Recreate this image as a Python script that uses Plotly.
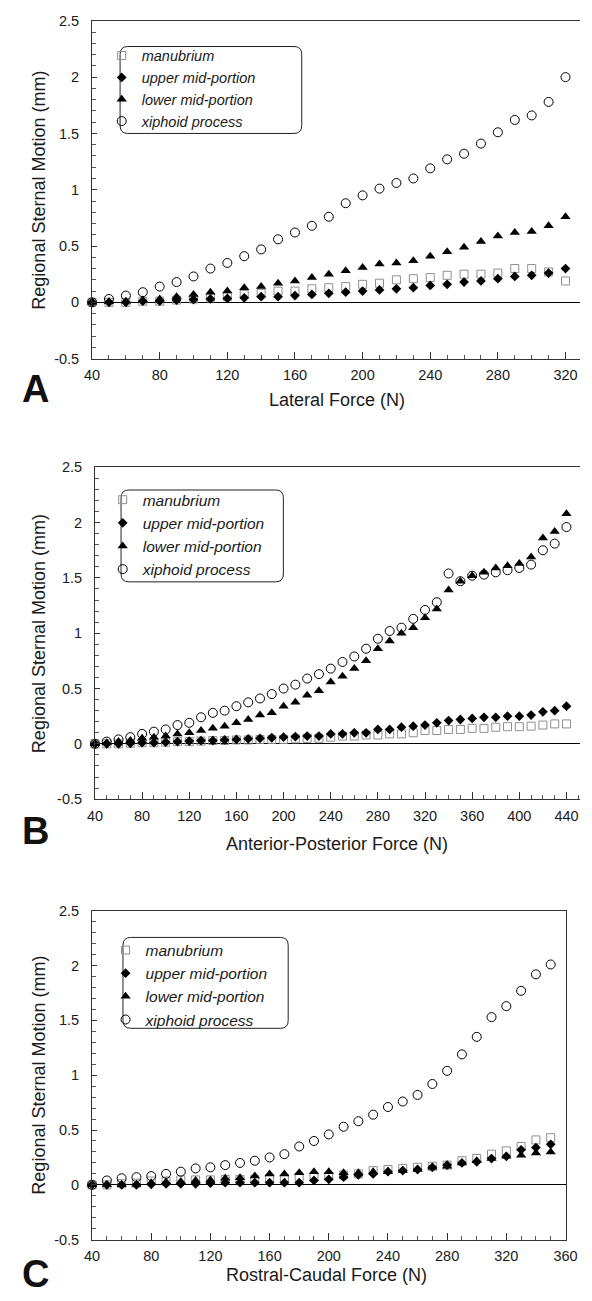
import plotly.graph_objects as go

# ---------------- DATA ----------------
force_A = list(range(40, 321, 10))
force_B = list(range(40, 441, 10))
force_C = list(range(40, 351, 10))

A_manubrium = [0, 0, 0, 0.01, 0.01, 0.02, 0.03, 0.04, 0.05, 0.07, 0.08, 0.10, 0.10, 0.12, 0.13,
               0.14, 0.16, 0.17, 0.20, 0.21, 0.22, 0.24, 0.25, 0.25, 0.26, 0.30, 0.30, 0.27, 0.19]
A_upper = [0, 0, 0, 0.01, 0.01, 0.02, 0.025, 0.03, 0.035, 0.04, 0.05, 0.05, 0.06, 0.07, 0.08,
           0.09, 0.10, 0.11, 0.12, 0.13, 0.15, 0.16, 0.18, 0.19, 0.21, 0.23, 0.24, 0.26, 0.30]
A_lower = [0, 0.005, 0.01, 0.02, 0.03, 0.05, 0.07, 0.09, 0.10, 0.13, 0.14, 0.17, 0.19, 0.22, 0.25,
           0.28, 0.31, 0.34, 0.35, 0.37, 0.41, 0.45, 0.49, 0.54, 0.59, 0.62, 0.63, 0.68, 0.76]
A_xiphoid = [0, 0.03, 0.06, 0.09, 0.14, 0.18, 0.23, 0.30, 0.35, 0.41, 0.47, 0.56, 0.62, 0.68, 0.76,
             0.88, 0.95, 1.01, 1.06, 1.10, 1.19, 1.27, 1.32, 1.41, 1.51, 1.62, 1.66, 1.78, 2.00]

B_manubrium = [0, 0, 0, 0.005, 0.01, 0.01, 0.015, 0.02, 0.02, 0.025, 0.03, 0.03, 0.035, 0.035,
               0.04, 0.04, 0.04, 0.045, 0.05, 0.05, 0.06, 0.07, 0.07, 0.08, 0.08, 0.09, 0.09,
               0.10, 0.12, 0.12, 0.13, 0.13, 0.14, 0.14, 0.15, 0.155, 0.155, 0.16, 0.17, 0.18, 0.18]
B_upper = [0, 0, 0, 0.005, 0.01, 0.01, 0.015, 0.02, 0.025, 0.03, 0.03, 0.035, 0.04, 0.045,
           0.05, 0.055, 0.06, 0.065, 0.07, 0.07, 0.09, 0.09, 0.10, 0.10, 0.13, 0.13, 0.15,
           0.16, 0.17, 0.19, 0.21, 0.22, 0.23, 0.24, 0.24, 0.25, 0.25, 0.26, 0.29, 0.30, 0.34]
B_lower = [0, 0.01, 0.02, 0.03, 0.05, 0.06, 0.07, 0.09, 0.10, 0.12, 0.14, 0.16, 0.19, 0.22,
           0.26, 0.28, 0.34, 0.375, 0.44, 0.48, 0.56, 0.61, 0.68, 0.75, 0.86, 0.93, 1.00,
           1.05, 1.14, 1.22, 1.39, 1.47, 1.52, 1.55, 1.59, 1.61, 1.63, 1.69, 1.86, 1.92, 2.08]
B_xiphoid = [0, 0.02, 0.04, 0.06, 0.09, 0.11, 0.13, 0.17, 0.19, 0.24, 0.28, 0.30, 0.34, 0.375,
             0.41, 0.45, 0.50, 0.535, 0.59, 0.63, 0.68, 0.74, 0.79, 0.86, 0.95, 1.02, 1.05,
             1.13, 1.21, 1.28, 1.54, 1.47, 1.52, 1.53, 1.55, 1.57, 1.59, 1.62, 1.75, 1.81, 1.96]

C_manubrium = [0, 0, 0.01, 0.015, 0.035, 0.035, 0.045, 0.045, 0.045, 0.05, 0.05, 0.05, 0.06, 0.06,
               0.07, 0.07, 0.08, 0.09, 0.10, 0.13, 0.14, 0.15, 0.16, 0.17, 0.18, 0.22, 0.24, 0.28,
               0.31, 0.35, 0.41, 0.43]
C_upper = [0, 0, 0, 0, 0.005, 0.01, 0.01, 0.01, 0.015, 0.02, 0.02, 0.02, 0.02, 0.02, 0.02, 0.04,
           0.05, 0.07, 0.09, 0.10, 0.12, 0.13, 0.14, 0.16, 0.18, 0.20, 0.21, 0.24, 0.26, 0.32,
           0.34, 0.37]
C_lower = [0, 0, 0, 0.005, 0.02, 0.025, 0.03, 0.04, 0.045, 0.06, 0.065, 0.08, 0.10, 0.10, 0.11,
           0.12, 0.12, 0.11, 0.11, 0.12, 0.12, 0.13, 0.14, 0.16, 0.17, 0.20, 0.22, 0.24, 0.26,
           0.27, 0.29, 0.30]
C_xiphoid = [0, 0.04, 0.06, 0.07, 0.08, 0.10, 0.12, 0.15, 0.16, 0.18, 0.20, 0.22, 0.25, 0.28,
             0.35, 0.40, 0.46, 0.53, 0.58, 0.64, 0.71, 0.76, 0.82, 0.92, 1.04, 1.19, 1.35, 1.53,
             1.63, 1.77, 1.92, 2.01]

series_names = ["manubrium", "upper mid-portion", "lower mid-portion", "xiphoid process"]
x_titles = ["Lateral Force (N)", "Anterior-Posterior Force (N)", "Rostral-Caudal Force (N)"]
panel_letters = ["A", "B", "C"]
y_title = "Regional Sternal Motion (mm)"

# ---------------- LAYOUT CONSTANTS ----------------
W, H = 592, 1301
FONT = "Liberation Sans, Arial, Helvetica, sans-serif"

def fx(px):
    return px / W

def fy(py):
    return 1 - py / H

styles = [
    dict(symbol="square-open", size=8, color="#8f8f8f", line=dict(width=1, color="#8f8f8f")),
    dict(symbol="diamond", size=7.5, color="black", line=dict(width=0)),
    dict(symbol="triangle-up", size=9, color="black", line=dict(width=0)),
    dict(symbol="circle-open", size=9, color="black", line=dict(width=1, color="black")),
]

panels = [
    dict(x=force_A, ys=[A_manubrium, A_upper, A_lower, A_xiphoid],
         xdom=(87, 592), xr=(40, 40 + (592 - 87) / 1.75), ydom=(13, 355), rmirror=False,
         legbox=(116, 39, 304, 127), legxy=(97, 32), legfont=14.5,
         ytitle_y=184, xtitle=(340, 397), letter=(28, 386)),
    dict(x=force_B, ys=[B_manubrium, B_upper, B_lower, B_xiphoid],
         xdom=(90, 592), xr=(40, 40 + (592 - 90) / 1.22), ydom=(465, 801), rmirror=False,
         legbox=(117, 488, 285, 581), legxy=(98, 481), legfont=15.5,
         ytitle_y=633, xtitle=(340, 846), letter=(28, 833)),
    dict(x=force_C, ys=[C_manubrium, C_upper, C_lower, C_xiphoid],
         xdom=(87, 577), xr=(40, 360), ydom=(914, 1247), rmirror=True,
         legbox=(119, 941, 290, 1033), legxy=(101, 937), legfont=15.5,
         ytitle_y=1080, xtitle=(330, 1283), letter=(28, 1282)),
]

fig = go.Figure()
layout = dict(
    width=W, height=H, margin=dict(l=0, r=0, t=0, b=0),
    paper_bgcolor="white", plot_bgcolor="white",
    font=dict(family=FONT, color="#1a1a1a"),
    shapes=[], annotations=[],
)

def rounded_path(x0, y0, x1, y1, r=8):
    rx, ry = r / W, r / H
    X0, X1 = fx(x0), fx(x1)
    Ytop, Ybot = fy(y0), fy(y1)
    return (f"M {X0+rx},{Ytop} L {X1-rx},{Ytop} Q {X1},{Ytop} {X1},{Ytop-ry} "
            f"L {X1},{Ybot+ry} Q {X1},{Ybot} {X1-rx},{Ybot} "
            f"L {X0+rx},{Ybot} Q {X0},{Ybot} {X0},{Ybot+ry} "
            f"L {X0},{Ytop-ry} Q {X0},{Ytop} {X0+rx},{Ytop} Z")

for i, p in enumerate(panels):
    n = "" if i == 0 else str(i + 1)
    xa, ya = "x" + n, "y" + n
    leg = "legend" + n
    for name, yv, st in zip(series_names, p["ys"], styles):
        fig.add_trace(go.Scatter(
            x=p["x"], y=yv, mode="markers", name=f"<i>{name}</i>",
            marker=st, xaxis=xa, yaxis=ya, legend=leg, showlegend=True,
            cliponaxis=False,
        ))
    layout["xaxis" + n] = dict(
        domain=[fx(p["xdom"][0]), fx(p["xdom"][1])], range=list(p["xr"]),
        anchor=ya, showgrid=False, zeroline=False,
        showline=True, linecolor="#333", linewidth=1, mirror=True,
        ticks="inside", ticklen=7, tickwidth=1, tickcolor="#333",
        tick0=40, dtick=40,
        minor=dict(ticks="inside", ticklen=4, dtick=10, tick0=40, tickcolor="#555", showgrid=False),
        tickfont=dict(size=14.5, family=FONT, color="#1a1a1a"),
        ticklabelstandoff=3, fixedrange=True,
    )
    layout["yaxis" + n] = dict(
        domain=[fy(p["ydom"][1]), fy(p["ydom"][0])], range=[-0.5, 2.5],
        anchor=xa, showgrid=False,
        zeroline=True, zerolinecolor="black", zerolinewidth=1,
        showline=True, linecolor="#333", linewidth=1, mirror=p["rmirror"],
        ticks="inside", ticklen=5, tickwidth=1, tickcolor="#333",
        tickvals=[-0.5, 0, 0.5, 1, 1.5, 2, 2.5],
        ticktext=["-0.5", "0", "0.5", "1", "1.5", "2", "2.5"],
        minor=dict(ticks="inside", ticklen=4, dtick=0.1, tick0=0, tickcolor="#555", showgrid=False),
        tickfont=dict(size=14.5, family=FONT, color="#1a1a1a"),
        ticklabelstandoff=9, fixedrange=True,
    )
    layout[leg] = dict(
        x=fx(p["legxy"][0]), y=fy(p["legxy"][1]), xanchor="left", yanchor="top",
        bgcolor="rgba(0,0,0,0)", borderwidth=0,
        font=dict(size=p["legfont"], family=FONT, color="#1a1a1a"),
        tracegroupgap=0,
    )
    bx0, by0, bx1, by1 = p["legbox"]
    layout["shapes"].append(dict(
        type="path", xref="paper", yref="paper", path=rounded_path(bx0, by0, bx1, by1),
        line=dict(color="#222", width=1), fillcolor="rgba(0,0,0,0)", layer="below",
    ))
    layout["annotations"].append(dict(
        text=y_title, xref="paper", yref="paper", x=fx(32), y=fy(p["ytitle_y"]),
        xanchor="center", yanchor="middle", textangle=-90, showarrow=False,
        font=dict(size=18, family=FONT, color="#1a1a1a"),
    ))
    layout["annotations"].append(dict(
        text=x_titles[i], xref="paper", yref="paper", x=fx(p["xtitle"][0]), y=fy(p["xtitle"][1]),
        xanchor="center", yanchor="middle", showarrow=False,
        font=dict(size=18, family=FONT, color="#1a1a1a"),
    ))
    layout["annotations"].append(dict(
        text=f"<b>{panel_letters[i]}</b>", xref="paper", yref="paper",
        x=fx(p["letter"][0]), y=fy(p["letter"][1]),
        xanchor="center", yanchor="middle", showarrow=False,
        font=dict(size=38, family=FONT, color="#111"),
    ))

fig.update_layout(**layout)
fig.write_html(
    "out.html",
    config={"displayModeBar": False},
    post_script="document.body.style.margin='0';document.body.style.overflow='hidden';",
)
